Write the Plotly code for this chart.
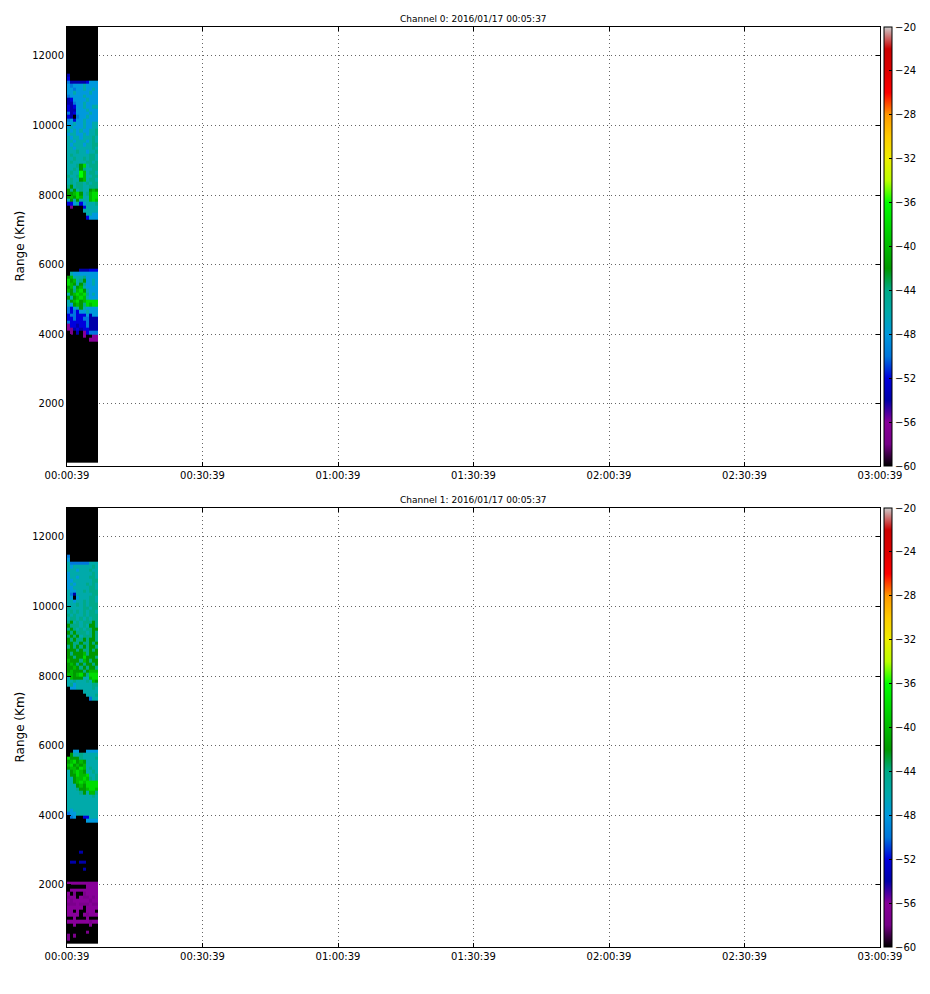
import numpy as np
import plotly.graph_objects as go

# ---------------- data ----------------
TITLES = ["Channel 0: 2016/01/17 00:05:37", "Channel 1: 2016/01/17 00:05:37"]
Y_TITLE = "Range (Km)"
X_TICK_SECONDS = [0, 1800, 3600, 5400, 7200, 9000, 10800]
X_TICK_LABELS = ["00:00:39", "00:30:39", "01:00:39", "01:30:39", "02:00:39", "02:30:39", "03:00:39"]
X_RANGE_S = [0, 10800]
Y_RANGE_KM = [218, 12833]
Z_MIN, Z_MAX = -60, -20

# profile time edges (seconds after 00:00:39)
PROFILE_EDGES_S = [0, 41, 82, 124, 165, 206, 247, 288, 330, 371, 412]
# range gate edges (km), 100 km gates
GATE_BOTTOM_KM = 300
GATE_TOP_KM = 12900
GATE_SIZE_KM = 100
NOISE_FLOOR_DB = -60

# power level codes (dB)
LEVEL_DB = {'k': -60, 'q': -57.5, 'p': -56, 'd': -54, 'b': -52, 'a': -50,
            'l': -48, 't': -46, 's': -44, 'g': -42, 'm': -40, 'h': -38, 'y': -36}

# rows keyed by gate bottom (km); one char per profile; gates not listed are at the noise floor
CH0_ROWS = {
    11400: "dkkkkkkkkk",
    11300: "bkkkkkkkkk",
    11200: "adddddblll",
    11100: "lallltllll",
    11000: "llalltlltl",
    10900: "lltlllltll",
    10800: "alllltllll",
    10700: "dblllltlll",
    10600: "ddalltllll",
    10500: "bdblltlltt",
    10400: "bddllltlll",
    10300: "adblllltll",
    10200: "bdkalltlll",
    10100: "alblltllll",
    10000: "lltlltlltt",
    9900: "ltllltlltt",
    9800: "tltltlltts",
    9700: "lttlltltts",
    9600: "tlttltttst",
    9500: "ttltttltst",
    9400: "tltttlttss",
    9300: "ttltttttst",
    9200: "tttsttltts",
    9100: "tstttttsst",
    9000: "ttsttstsst",
    8900: "tsttttssts",
    8800: "tttsghtsss",
    8700: "ttstgsttss",
    8600: "tsttymtsst",
    8500: "sttsymttss",
    8400: "tsttgmtsst",
    8300: "tstsststss",
    8200: "sgtssttsss",
    8100: "gsgtsttgmg",
    8000: "ggmhgtsmhh",
    7900: "gmghmttmhh",
    7800: "tgtgtttmhm",
    7700: "bbltblttts",
    7600: "kqkkkbtttt",
    7500: "kkkkkttttt",
    7400: "kkkkkkttll",
    7300: "kkkkkkblll",
    5800: "kkkkdddbbb",
    5700: "ktllllllll",
    5600: "gmtttsllll",
    5500: "hgmtsglltl",
    5400: "hmgtgslltl",
    5300: "gmtgmtllll",
    5200: "mgsmhgtlll",
    5100: "tgmhmhsltl",
    5000: "gtgmhmtlll",
    4900: "tgmhgmhhhh",
    4800: "tlgmgshmhh",
    4700: "abltgtllll",
    4600: "abablltlll",
    4500: "baabbbldll",
    4400: "bbabbaaddd",
    4300: "abbbbbaddd",
    4200: "pbbdbbaddd",
    4100: "pqdbdbbddd",
    4000: "kqkdkpbaaa",
    3900: "kkkkkpkkpp",
    3800: "kkkkkkkppp",
}

CH1_ROWS = {
    11400: "akkkkkkkkk",
    11300: "lkkkkkkkkk",
    11200: "taaaaaattt",
    11100: "tlttttttst",
    11000: "tttltttstt",
    10900: "ltttttttst",
    10800: "lttltttsst",
    10700: "llttttttss",
    10600: "ltltttstst",
    10500: "lltttttsst",
    10400: "tllttstsss",
    10300: "tadtttttss",
    10200: "tlkltttsst",
    10100: "ttlttstsst",
    10000: "tttststsss",
    9900: "sttttsstss",
    9800: "tstststsst",
    9700: "ststtstsss",
    9600: "tsstststss",
    9500: "sgtstsssgs",
    9400: "gssststggs",
    9300: "sgststssgg",
    9200: "gsgssstsgs",
    9100: "sgsgtsssgs",
    9000: "gsgssgsggs",
    8900: "ggssgssgsg",
    8800: "sgsgsgsggs",
    8700: "gggsgssgsg",
    8600: "gsgggmsggg",
    8500: "ggsgghgggs",
    8400: "mgggsmgsgg",
    8300: "gmgsgsggsg",
    8200: "ggmgsgsggs",
    8100: "gmgggsgmmm",
    8000: "mmgmhgshhh",
    7900: "tmgggttmhh",
    7800: "ttstttstmg",
    7700: "tsltttttss",
    7600: "klltttttst",
    7500: "kkkkkttttt",
    7400: "kkkkkkttts",
    7300: "kkkkkkkatt",
    5800: "kkllkkllll",
    5700: "kgttsttttt",
    5600: "hgggstttts",
    5500: "gmhgmgtttt",
    5400: "mhgmgmtttt",
    5300: "gmmghmtstt",
    5200: "tgmhmgttst",
    5100: "tgghmmhtts",
    5000: "ttgmmhmsts",
    4900: "ttgmhmhhhh",
    4800: "tttgmghhhh",
    4700: "tttsggmhhm",
    4600: "ttttsgtmms",
    4500: "ttttttttst",
    4400: "tttttttttt",
    4300: "tttttttttt",
    4200: "tttttttttt",
    4100: "tltttttttt",
    4000: "allttttttt",
    3900: "kalkkbbttt",
    3800: "kkkkkkllll",
    2900: "kkkkdkkkkk",
    2600: "kddkddkkkk",
    2400: "kkkkkdkkkk",
    2000: "pppppppppp",
    1900: "kkkkkkpppp",
    1800: "kppppppppp",
    1700: "pkqkkqpppp",
    1600: "qppkpqqpqp",
    1500: "pqpppppqpp",
    1400: "qqqpqqqpqq",
    1300: "pppppkpppp",
    1200: "ppkpkkpppk",
    1100: "ppppkpqppp",
    1000: "kkpkkkpkkk",
    900: "pppppppqpp",
    800: "kkpkkkkpkk",
    600: "kkkkkkqkkk",
    500: "qkqkkkkkkk",
    400: "qkkkkkkkkk",
}

# nipy_spectral colormap stops
CMAP = [
    (0.00, "rgb(0,0,0)"), (0.05, "rgb(119,0,136)"), (0.10, "rgb(136,0,153)"),
    (0.15, "rgb(0,0,170)"), (0.20, "rgb(0,0,221)"), (0.25, "rgb(0,119,221)"),
    (0.30, "rgb(0,153,221)"), (0.35, "rgb(0,170,170)"), (0.40, "rgb(0,170,136)"),
    (0.45, "rgb(0,153,0)"), (0.50, "rgb(0,187,0)"), (0.55, "rgb(0,221,0)"),
    (0.60, "rgb(0,255,0)"), (0.65, "rgb(187,255,0)"), (0.70, "rgb(238,238,0)"),
    (0.75, "rgb(255,204,0)"), (0.80, "rgb(255,153,0)"), (0.85, "rgb(255,0,0)"),
    (0.90, "rgb(221,0,0)"), (0.95, "rgb(204,0,0)"), (1.00, "rgb(204,204,204)"),
]

# ---------------- build ----------------
gate_edges = np.arange(GATE_BOTTOM_KM, GATE_TOP_KM + 1, GATE_SIZE_KM)
n_prof = len(PROFILE_EDGES_S) - 1


def build_grid(rows):
    grid = []
    for b in gate_edges[:-1]:
        s = rows.get(int(b))
        if s is None:
            grid.append([NOISE_FLOOR_DB] * n_prof)
        else:
            grid.append([LEVEL_DB[c] for c in s])
    return grid


W, H = 930, 994
OFF = 8  # the page body adds an 8px margin around the plot div
ax_l, ax_r = 67 - OFF, 880 - OFF
cb_x = 884 - OFF
panels = [(27 - OFF, 466 - OFF), (508 - OFF, 947 - OFF)]

fig = go.Figure()
for i, rows in enumerate([CH0_ROWS, CH1_ROWS]):
    top, bot = panels[i]
    ydom = [1 - bot / H, 1 - top / H]
    fig.add_trace(go.Heatmap(
        x=PROFILE_EDGES_S, y=gate_edges, z=build_grid(rows),
        zmin=Z_MIN, zmax=Z_MAX, colorscale=CMAP, zsmooth=False,
        xaxis="x" if i == 0 else "x2", yaxis="y" if i == 0 else "y2",
        hoverinfo="skip",
        colorbar=dict(
            x=cb_x / W, xanchor="left", xpad=0, y=ydom[1], yanchor="top", ypad=0,
            len=(bot - top) / H, lenmode="fraction", thickness=8, thicknessmode="pixels",
            outlinecolor="black", outlinewidth=1,
            tick0=-60, dtick=4, ticks="inside", ticklen=3, tickcolor="black",
            tickfont=dict(family="DejaVu Sans", size=10, color="black"),
        ),
    ))

    axcommon = dict(showline=True, linecolor="black", linewidth=1, mirror="ticks",
                    ticks="inside", ticklen=4, tickcolor="black",
                    showgrid=True, gridcolor="#666666", griddash="1px,3px", gridwidth=1,
                    zeroline=False, automargin=False,
                    tickfont=dict(family="DejaVu Sans", size=10, color="black"))
    xa = dict(axcommon, domain=[ax_l / W, ax_r / W], range=X_RANGE_S,
              tickmode="array", tickvals=X_TICK_SECONDS, ticktext=X_TICK_LABELS,
              anchor="y" if i == 0 else "y2")
    ya = dict(axcommon, domain=ydom, range=Y_RANGE_KM, tick0=0, dtick=2000,
              tickformat="d", anchor="x" if i == 0 else "x2")
    if i == 0:
        fig.update_layout(xaxis=xa, yaxis=ya)
    else:
        fig.update_layout(xaxis2=xa, yaxis2=ya)

    fig.add_annotation(text=TITLES[i], xref="paper", yref="paper",
                       x=(ax_l + ax_r) / 2 / W, y=1 - (top - 8) / H,
                       xanchor="center", yanchor="middle", showarrow=False,
                       font=dict(family="DejaVu Sans", size=9, color="black"))
    fig.add_annotation(text=Y_TITLE, xref="paper", yref="paper",
                       x=(19 - OFF) / W, y=1 - (top + bot) / 2 / H, textangle=-90,
                       xanchor="center", yanchor="middle", showarrow=False,
                       font=dict(family="DejaVu Sans", size=12, color="black"))

fig.update_layout(width=W, height=H,
                  margin=dict(l=0, r=0, t=0, b=0, autoexpand=False),
                  paper_bgcolor="white", plot_bgcolor="white", showlegend=False)
fig.write_html("out.html")
